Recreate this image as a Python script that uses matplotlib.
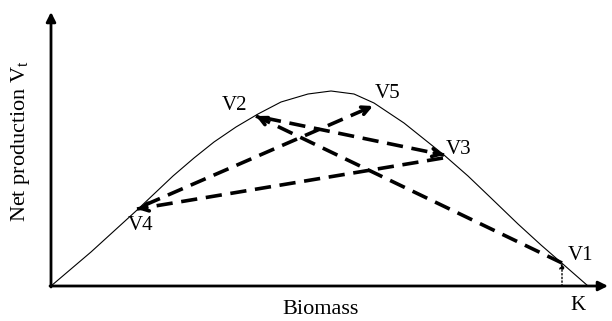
import matplotlib.pyplot as plt
import numpy as np

plt.rcParams['font.family'] = ['Liberation Serif', 'DejaVu Serif']

# production curve (pixel-like units, origin at the axes corner)
biomass = [0, 40, 85, 122, 143, 163, 185, 207, 230, 257, 280, 303, 323, 353, 393, 417, 440, 467, 490, 513, 537]
production = [0, 34, 75, 110, 128, 144, 159, 172, 184, 192, 195, 192, 183, 163, 131, 110, 88, 62, 41, 21, 0]

# states visited, in order
labels = ['V1', 'V2', 'V3', 'V4', 'V5']
pt_x = [511, 205, 393, 86, 322]
pt_y = [23, 170, 131, 77, 180]
start_x = [511, 214, 392, 94, 322]
start_y = [23, 168, 128, 81, 180]
lab_x = [517, 171, 395, 77, 324]
lab_y = [30, 181, 137, 61, 193]
K = 511

fig = plt.figure(figsize=(6.12, 3.21), dpi=100)
ax = fig.add_axes([0, 0, 1, 1])
ax.set_xlim(-51, 561)
ax.set_ylim(-35, 286)
ax.axis('off')

# axes with arrows
ax.annotate('', xy=(557, 0), xytext=(-1, 0),
            arrowprops=dict(arrowstyle='-|>', lw=2, color='black', mutation_scale=14, shrinkA=0, shrinkB=0))
ax.annotate('', xy=(0, 274), xytext=(0, -1),
            arrowprops=dict(arrowstyle='-|>', lw=2, color='black', mutation_scale=14, shrinkA=0, shrinkB=0))

ax.plot(biomass, production, color='black', lw=0.8)

# dashed arrows V1 -> V2 -> V3 -> V4 -> V5
for i in range(len(labels) - 1):
    x0, y0 = start_x[i], start_y[i]
    x1, y1 = pt_x[i + 1], pt_y[i + 1]
    ax.plot([x0, x1], [y0, y1], color='black', lw=2.6, dashes=(4.5, 2.4))
    d = np.array([x1 - x0, y1 - y0], dtype=float)
    d = d / np.hypot(*d)
    ax.annotate('', xy=(x1, y1), xytext=(x1 - 10 * d[0], y1 - 10 * d[1]),
                arrowprops=dict(arrowstyle='->', lw=2.6, color='black', mutation_scale=14,
                                shrinkA=0, shrinkB=0))

# small dotted arrow at K up to V1
ax.annotate('', xy=(K, 23), xytext=(K, 0),
            arrowprops=dict(arrowstyle='-|>', lw=1, ls=':', color='black', mutation_scale=8,
                            shrinkA=0, shrinkB=0))

for name, x, y in zip(labels, lab_x, lab_y):
    ax.text(x, y, name, fontsize=15, ha='left', va='center')

ax.text(527, -19, 'K', fontsize=15, ha='center', va='center')
ax.text(270, -24, 'Biomass', fontsize=16, ha='center', va='center')
ax.text(-31, 145, r'Net production V$_{\mathregular{t}}$', fontsize=16, rotation=90,
        ha='center', va='center')

fig.savefig('out.png', dpi=100)
